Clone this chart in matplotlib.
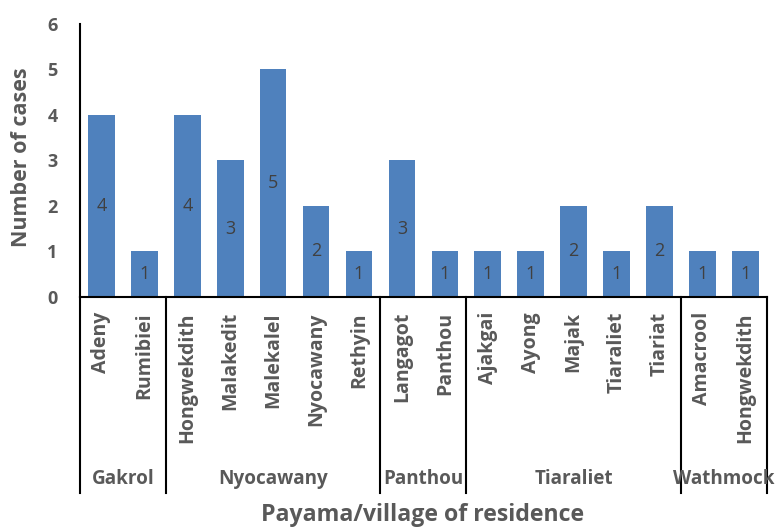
import matplotlib.pyplot as plt
from matplotlib.transforms import blended_transform_factory

plt.rcParams['font.family'] = ['Open Sans', 'DejaVu Sans']

# Villages (lower level) and payamas (upper level)
villages = ['Adeny', 'Rumibiei',
            'Hongwekdith', 'Malakedit', 'Malekalel', 'Nyocawany', 'Rethyin',
            'Langagot', 'Panthou',
            'Ajakgai', 'Ayong', 'Majak', 'Tiaraliet', 'Tiariat',
            'Amacrool', 'Hongwekdith']
cases = [4, 1, 4, 3, 5, 2, 1, 3, 1, 1, 1, 2, 1, 2, 1, 1]
payamas = ['Gakrol', 'Nyocawany', 'Panthou', 'Tiaraliet', 'Wathmock']
payama_sizes = [2, 5, 2, 5, 2]

gris = '#595959'

fig = plt.figure(figsize=(7.8, 5.29), dpi=100)
ax = fig.add_axes([0.1026, 0.439, 0.8804, 0.5156])

x = list(range(len(villages)))
barras = ax.bar(x, cases, width=0.62, color='#4F81BD')
ax.bar_label(barras, label_type='center', fontsize=13, color='#404040')

ax.set_xlim(-0.5, len(villages) - 0.5)
ax.set_ylim(0, 6)
ax.set_yticks(range(7))
ax.tick_params(axis='y', length=0, pad=16, labelsize=13, labelcolor=gris)
for lbl in ax.get_yticklabels():
    lbl.set_fontweight('bold')

ax.set_xticks(x)
ax.set_xticklabels(villages, rotation=90, fontsize=14, fontweight='bold', color=gris)
ax.tick_params(axis='x', length=0, pad=11)

for lado in ['top', 'right']:
    ax.spines[lado].set_visible(False)
for lado in ['left', 'bottom']:
    ax.spines[lado].set_linewidth(1.5)

# Segundo nivel del eje: separadores y nombres de payama
trans = blended_transform_factory(ax.transData, ax.transAxes)
inicio = -0.5
ax.plot([inicio, inicio], [0, -0.72], color='black', lw=1.5, transform=trans, clip_on=False)
for nombre, n in zip(payamas, payama_sizes):
    fin = inicio + n
    ax.plot([fin, fin], [0, -0.72], color='black', lw=1.5, transform=trans, clip_on=False)
    ax.text((inicio + fin) / 2, -0.668, nombre, transform=trans, ha='center', va='center',
            fontsize=13.6, fontweight='bold', color=gris)
    inicio = fin

fig.text(0.542, 0.027, 'Payama/village of residence', ha='center', va='center',
         fontsize=16.7, fontweight='bold', color=gris)
fig.text(0.028, 0.702, 'Number of cases', ha='center', va='center', rotation=90,
         fontsize=15.5, fontweight='bold', color=gris)

fig.savefig('out.png', dpi=100)
